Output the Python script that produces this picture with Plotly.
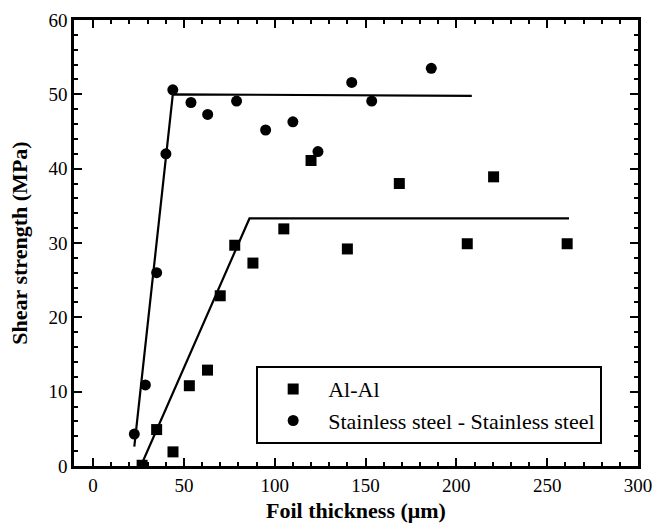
import plotly.graph_objects as go

# Al-Al data
al_x = [27, 35, 44, 53, 63, 70, 78, 88, 105, 120, 140, 168.6, 206, 220.5, 261]
al_y = [0.1, 4.9, 1.9, 10.8, 12.9, 22.9, 29.7, 27.3, 31.9, 41.1, 29.2, 38.0, 29.9, 38.9, 29.9]

# Stainless steel data
ss_x = [22.7, 28.8, 35, 40.1, 43.9, 53.9, 63.1, 79, 95, 110, 123.8, 142.4, 153.4, 186.2]
ss_y = [4.3, 10.9, 26.0, 42.0, 50.6, 48.9, 47.3, 49.1, 45.2, 46.3, 42.3, 51.6, 49.1, 53.5]

# Fit lines (bilinear)
al_fit_x = [26.3, 86.1, 262]
al_fit_y = [0, 33.3, 33.3]
ss_fit_x = [22.7, 43.9, 208.5]
ss_fit_y = [2.6, 50.0, 49.8]

x_ticks = [0, 50, 100, 150, 200, 250, 300]
y_ticks = [0, 10, 20, 30, 40, 50, 60]

FONT = "Liberation Serif"

fig = go.Figure()
fig.add_trace(go.Scatter(x=al_fit_x, y=al_fit_y, mode="lines",
                         line=dict(color="black", width=2.2), showlegend=False))
fig.add_trace(go.Scatter(x=ss_fit_x, y=ss_fit_y, mode="lines",
                         line=dict(color="black", width=2.2), showlegend=False))
fig.add_trace(go.Scatter(x=al_x, y=al_y, mode="markers", name="Al-Al",
                         marker=dict(symbol="square", size=11, color="black")))
fig.add_trace(go.Scatter(x=ss_x, y=ss_y, mode="markers",
                         name="Stainless steel - Stainless steel",
                         marker=dict(symbol="circle", size=11, color="black")))

axis_common = dict(
    showgrid=False, zeroline=False, showline=True, linecolor="black", linewidth=2.5,
    mirror="ticks", ticks="inside", ticklen=8, tickwidth=2, tickcolor="black",
    tickfont=dict(family=FONT, size=19, color="black"), automargin=False,
)

fig.update_xaxes(range=[-10.5, 300], tickvals=x_ticks,
                 minor=dict(dtick=10, ticks="inside", ticklen=4, tickwidth=1.5, tickcolor="black"),
                 title=dict(text="<b>Foil thickness (μm)</b>",
                            font=dict(family=FONT, size=22, color="black")),
                 **axis_common)
fig.update_yaxes(range=[0, 60], tickvals=y_ticks,
                 minor=dict(dtick=2, ticks="inside", ticklen=4, tickwidth=1.5, tickcolor="black"),
                 title=dict(text="<b>Shear strength (MPa)</b>",
                            font=dict(family=FONT, size=22, color="black")),
                 **axis_common)

fig.update_layout(
    width=667, height=523,
    margin=dict(l=74, r=29, t=20, b=57),
    paper_bgcolor="white", plot_bgcolor="white",
    font=dict(family=FONT, color="black"),
    legend=dict(x=0.323, y=0.224, xanchor="left", yanchor="top",
                bordercolor="black", borderwidth=2, bgcolor="white",
                font=dict(family=FONT, size=22, color="black"),
                itemwidth=60, tracegroupgap=0),
)

fig.write_html("out.html")
